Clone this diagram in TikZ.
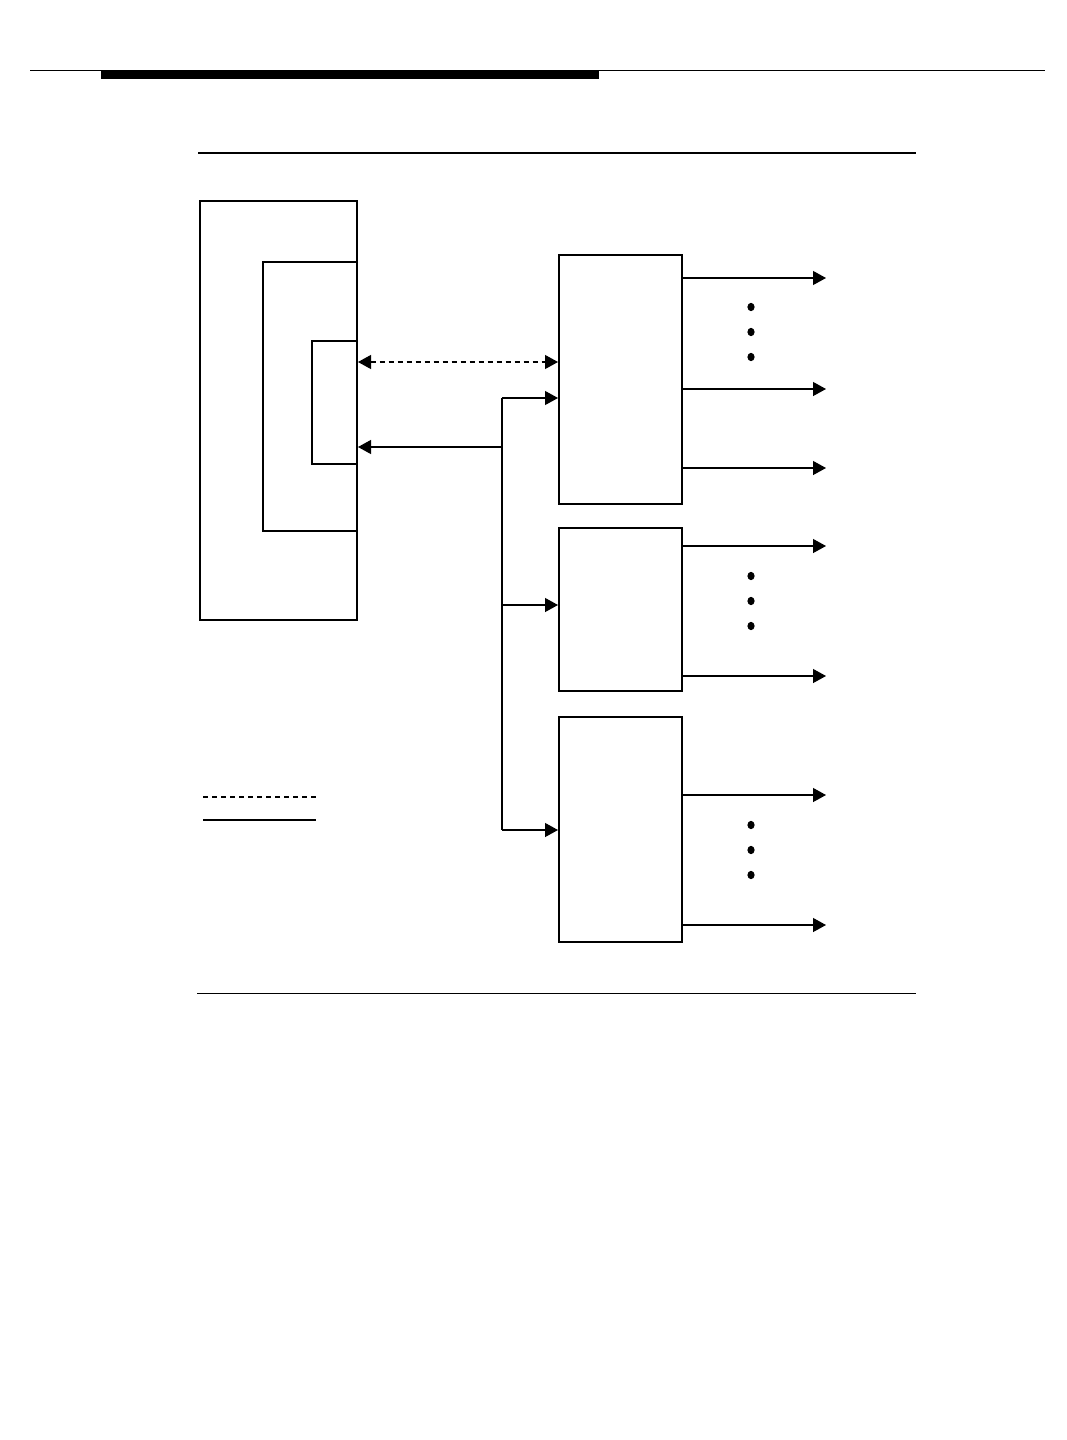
\documentclass[tikz,border=0pt]{standalone}
\usetikzlibrary{arrows.meta}
\begin{document}
\begin{tikzpicture}[x=1pt,y=-1pt,
  thinline/.style={line width=1.2pt},
  thickline/.style={line width=2pt},
  blockbox/.style={draw,thickline,rectangle,inner sep=0pt,minimum width=123pt},
  tip/.style={Triangle[length=13pt,width=14pt]},
  arr/.style={thinline,-{Triangle[length=13pt,width=14pt]}},
  darr/.style={thinline,dash pattern=on 5pt off 4pt,{Triangle[length=13pt,width=14pt]}-{Triangle[length=13pt,width=14pt]}}
]
\useasboundingbox (0,0) rectangle (1066,1440);
% header rules
\draw[line width=1pt] (30,70) -- (1045,70);
\fill (101,70) rectangle (599,79);
\draw[line width=2pt] (198,153) -- (916,153);
\draw[line width=1pt] (197,993) -- (916,993);

% left system box
\node[draw,thickline,rectangle,inner sep=0pt,minimum width=157pt,minimum height=419pt] (sys) at (278.5,410.5) {};
\coordinate (i1t) at (263,262);
\coordinate (i1b) at (263,531);
\coordinate (i2t) at (312,341);
\coordinate (i2b) at (312,464);
\draw[thinline] (sys.east |- i1t) -- (i1t) -- (i1b) -- (sys.east |- i1b);
\draw[thinline] (sys.east |- i2t) -- (i2t) -- (i2b) -- (sys.east |- i2b);

% right blocks
\node[blockbox,minimum height=249pt] (b1) at (620.5,379.5) {};
\node[blockbox,minimum height=163pt] (b2) at (620.5,609.5) {};
\node[blockbox,minimum height=225pt] (b3) at (620.5,829.5) {};

% connectors
\coordinate (dl) at (357,362);
\draw[darr] (sys.east |- dl) -- (b1.west |- dl);
\coordinate (bus) at (502,447);
\coordinate (bus1) at (502,398);
\coordinate (bus2) at (502,605);
\coordinate (bus3) at (502,830);
\draw[arr] (bus) -- (sys.east |- bus);
\draw[thinline] (bus1) -- (bus3);
\draw[arr] (bus1) -- (b1.west |- bus1);
\draw[arr] (bus2) -- (b2.west |- bus2);
\draw[arr] (bus3) -- (b3.west |- bus3);

% outputs
\foreach \yy/\bb [count=\k] in {278/b1,389/b1,468/b1,546/b2,676/b2,795/b3,925/b3}{
  \coordinate (o\k) at (826,\yy);
  \draw[arr] (\bb.east |- o\k) -- (o\k);
}
% dots
\foreach \yy in {307,332,357,576,601,626,825,850,875}{
  \fill (751,\yy) ellipse (3.6pt and 4.2pt);
}

% legend
\coordinate (l1a) at (203,797);
\coordinate (l1b) at (316,797);
\coordinate (l2a) at (203,820);
\coordinate (l2b) at (316,820);
\draw[thinline,dash pattern=on 5pt off 4pt] (l1a) -- (l1b);
\draw[thinline] (l2a) -- (l2b);
\end{tikzpicture}
\end{document}
